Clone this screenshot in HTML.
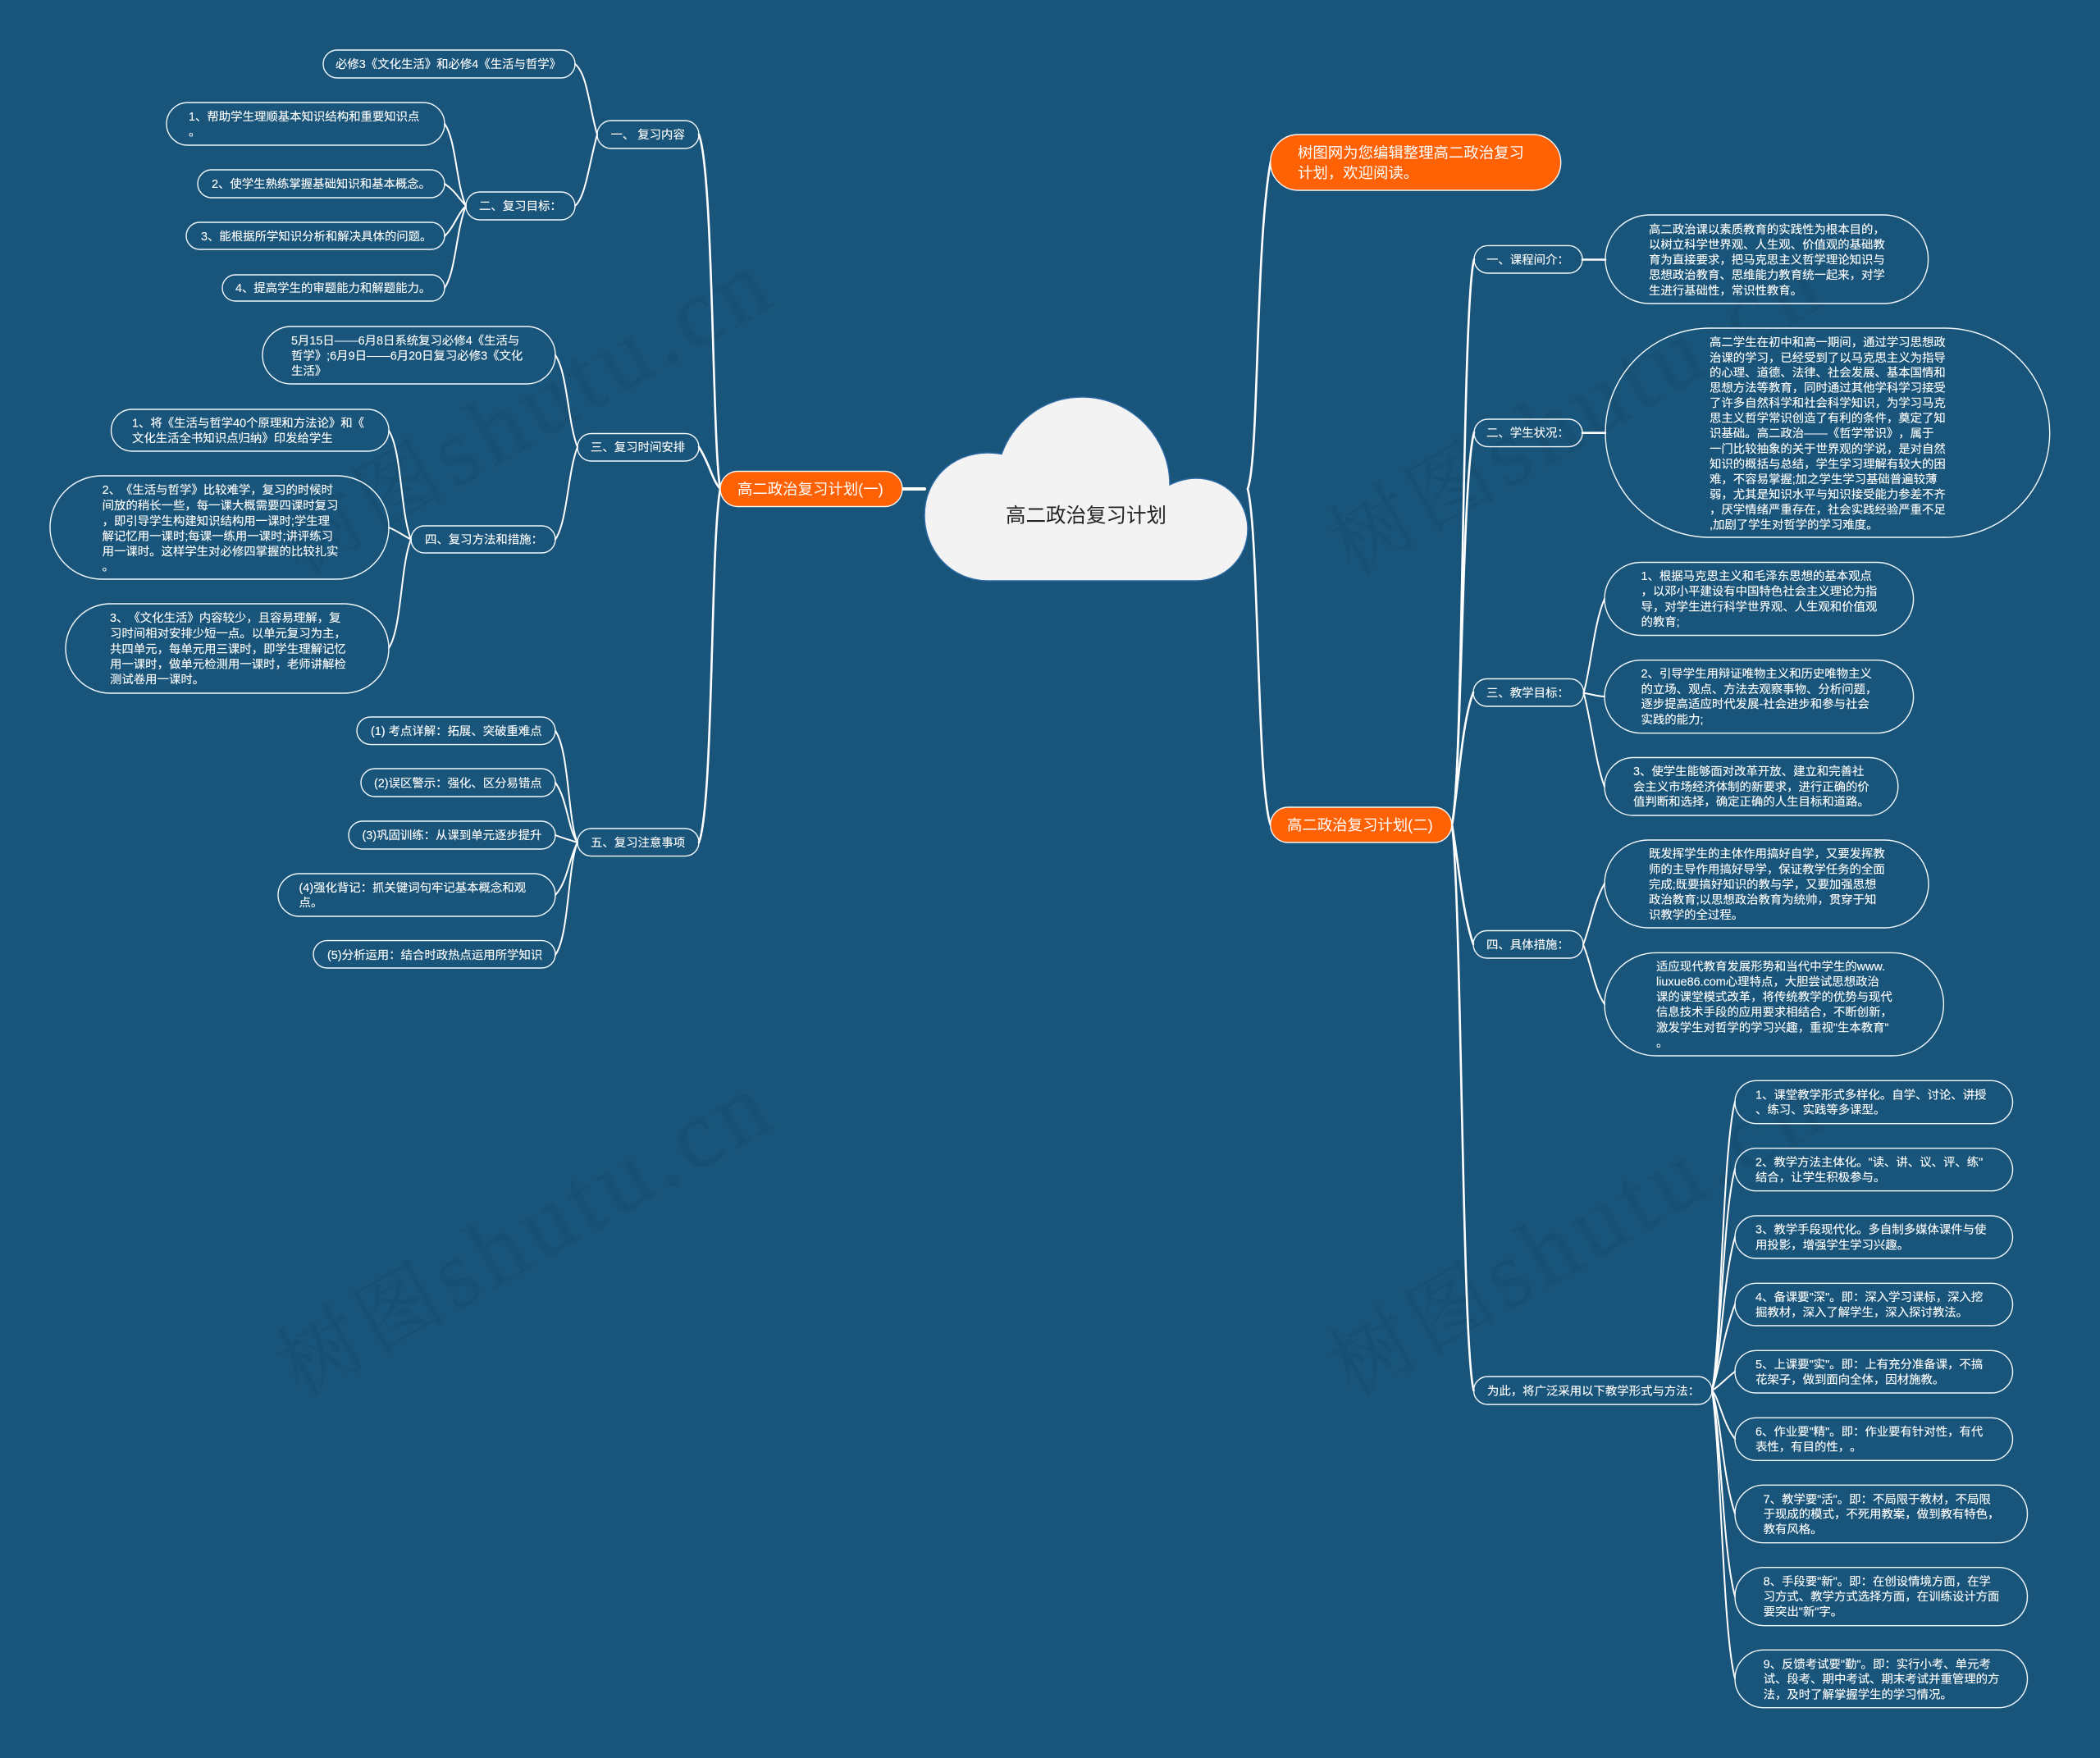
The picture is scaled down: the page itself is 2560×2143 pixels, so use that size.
<!DOCTYPE html>
<html lang="zh-CN">
<head>
<meta charset="utf-8">
<title>高二政治复习计划</title>
<style>
html,body{margin:0;padding:0;background:#19557a;}
body{width:2560px;height:2143px;overflow:hidden;}
svg{display:block;position:absolute;left:0;top:0;}
text{font-family:"Liberation Sans","Noto Sans CJK SC",sans-serif;text-spacing-trim:space-all;font-feature-settings:"chws" 0,"palt" 0;}
.t text{font-size:14.4px;fill:#fff;stroke:#fff;stroke-width:.12;dominant-baseline:central;}
.o{font-size:18.4px;fill:#fff;dominant-baseline:central;}
.wm{font-family:"Liberation Serif","Noto Serif CJK SC",serif;font-size:118px;letter-spacing:8px;fill:#175073;}
.wc{font-family:"Noto Serif CJK SC","Liberation Serif",serif;font-size:100px;letter-spacing:8px;fill:#175073;}
.l path{fill:none;stroke:#fff;stroke-width:2;stroke-linecap:round;}
.l2 path{fill:none;stroke:#fff;stroke-width:2.6;stroke-linecap:round;}
.n rect{fill:none;stroke:#f2f8fc;stroke-width:1.4;}
.m rect{fill:#ff6105;stroke:#f5f5f5;stroke-width:1.4;}
</style>
</head>
<body>
<svg width="2560" height="2143" viewBox="0 0 2560 2143" xmlns="http://www.w3.org/2000/svg">
<rect width="2560" height="2143" fill="#19557a"/>
<g>
<text class="wc" transform="translate(366,1704) rotate(-30)">树图</text>
<text class="wm" transform="translate(554,1599) rotate(-30)">shutu.cn</text>
<text class="wc" transform="translate(1648,1704) rotate(-30)">树图</text>
<text class="wm" transform="translate(1836,1599) rotate(-30)">shutu.cn</text>
<text class="wc" transform="translate(366,702) rotate(-30)">树图</text>
<text class="wm" transform="translate(554,597) rotate(-30)">shutu.cn</text>
<text class="wc" transform="translate(1648,702) rotate(-30)">树图</text>
<text class="wm" transform="translate(1836,597) rotate(-30)">shutu.cn</text>
</g>

<g class="l2">
<path d="M1521,596 C1535,560 1530,300 1549,197"/>
<path d="M1521,596 C1535,650 1532,960 1549,1006"/>
<path d="M1100,596 L1127,596" style="stroke-width:4"/>
<path d="M878,596 C868,540 870,210 852,164"/>
<path d="M878,596 C868,585 865,565 852,545"/>
<path d="M878,596 C866,660 870,980 852,1027"/>
<path d="M1770,1005 C1784,960 1782,370 1797,316"/>
<path d="M1770,1005 C1782,950 1782,580 1797,527"/>
<path d="M1770,1005 C1778,960 1782,880 1796,844"/>
<path d="M1770,1005 C1778,1050 1782,1110 1796,1151"/>
<path d="M1770,1005 C1782,1100 1782,1640 1796.500,1695"/>
</g>
<g class="l">
<path d="M728,164 C718,130 716,90 701,78"/>
<path d="M728,164 C718,200 714,240 701,251"/>
<path d="M568,251 C556,225 556,170 542,151"/>
<path d="M568,251 C558,240 554,232 542,224"/>
<path d="M568,251 C558,260 554,276 542,288"/>
<path d="M568,251 C556,280 556,330 542,351"/>
<path d="M704,545 C692,515 692,455 677,433"/>
<path d="M704,545 C692,575 692,635 677,657.600"/>
<path d="M501,657.600 C488,625 490,550 474,525"/>
<path d="M501,657.600 C490,652 486,648 474,643"/>
<path d="M501,657.600 C488,690 490,765 474,790"/>
<path d="M704,1027 C692,1000 694,915 677,891"/>
<path d="M704,1027 C692,1010 692,975 677,954"/>
<path d="M704,1027 C695,1024 687,1022 677,1018"/>
<path d="M704,1027 C694,1045 692,1075 677,1091"/>
<path d="M704,1027 C692,1055 694,1140 677,1164"/>
<path d="M1929,316.500 L1957,316.500" style="stroke-width:2.600"/>
<path d="M1929,527.700 L1957,527.700" style="stroke-width:2.600"/>
<path d="M1930.600,844.700 C1940,810 1943,760 1956,730"/>
<path d="M1930.600,844.700 C1940,846 1947,849 1956,849"/>
<path d="M1930.600,844.700 C1940,880 1945,930 1956,959"/>
<path d="M1930,1151.600 C1940,1125 1943,1100 1956,1077"/>
<path d="M1930,1151.600 C1940,1175 1943,1205 1956,1224"/>
<path d="M2087,1695 C2098,1640 2100,1400 2115,1343"/>
<path d="M2087,1695 C2098,1650 2100,1480 2115,1425"/>
<path d="M2087,1695 C2098,1660 2100,1560 2115,1508"/>
<path d="M2087,1695 C2096,1670 2100,1630 2115,1590"/>
<path d="M2087,1695 C2096,1690 2104,1680 2115,1672"/>
<path d="M2087,1695 C2096,1705 2100,1735 2115,1754"/>
<path d="M2087,1695 C2098,1730 2100,1800 2115,1845"/>
<path d="M2087,1695 C2098,1750 2100,1890 2115,1946"/>
<path d="M2087,1695 C2098,1770 2100,1990 2115,2046"/>
</g>

<path d="M1204,708 C1160,708 1127,672 1127,628 C1127,585 1160,552 1204,552 Q1213,552 1221,553.500 C1236,513 1273,484 1319,484 C1378,484 1426,532 1426,591 C1436,586 1446,583 1458,583 C1493,583 1521,610 1521,645 C1521,680 1493,708 1458,708 Z" fill="#f3f3f3" stroke="#2b69a6" stroke-width="1.400"/>
<text x="1226" y="629" style="font-size:24.500px;fill:#222;dominant-baseline:central">高二政治复习计划</text>

<g class="m">
<rect x="878" y="574.500" width="222" height="43" rx="21.500"/>
<rect x="1548.700" y="984" width="221" height="43" rx="21.500"/>
<rect x="1548.700" y="164" width="354" height="68" rx="34"/>
</g>
<text class="o" x="899" y="596">高二政治复习计划(一)</text>
<text class="o" x="1569" y="1005.500">高二政治复习计划(二)</text>
<text class="o" x="1582" y="186">树图网为您编辑整理高二政治复习</text>
<text class="o" x="1582" y="210.600">计划，欢迎阅读。</text>

<g class="n">
<!-- left -->
<rect x="728" y="147" width="124" height="34" rx="17"/>
<rect x="394" y="61" width="307" height="34" rx="17"/>
<rect x="568" y="234" width="133" height="34" rx="17"/>
<rect x="203" y="125" width="339" height="52" rx="26"/>
<rect x="241" y="207" width="301" height="34" rx="17"/>
<rect x="227" y="271" width="315" height="33" rx="16.500"/>
<rect x="271" y="335" width="271" height="32" rx="16"/>
<rect x="704" y="528.500" width="148" height="33.500" rx="16.700"/>
<rect x="320" y="398" width="357" height="70" rx="35"/>
<rect x="501" y="641" width="176" height="33" rx="16.500"/>
<rect x="135.500" y="499" width="338.500" height="51" rx="25.500"/>
<rect x="61" y="580" width="413" height="126" rx="63"/>
<rect x="80" y="736" width="394" height="109" rx="54.500"/>
<rect x="704" y="1010" width="148" height="33.600" rx="16.800"/>
<rect x="435" y="874" width="242" height="33.600" rx="16.800"/>
<rect x="440" y="937" width="237" height="34" rx="17"/>
<rect x="425" y="1001" width="252" height="34" rx="17"/>
<rect x="339" y="1065" width="338" height="52" rx="26"/>
<rect x="382" y="1146.600" width="295" height="33.400" rx="16.700"/>
<!-- right -->
<rect x="1797" y="299.400" width="132" height="33.600" rx="16.800"/>
<rect x="1957" y="262" width="393.600" height="108" rx="54"/>
<rect x="1797" y="511" width="132" height="33.600" rx="16.800"/>
<rect x="1957" y="400" width="541.700" height="255" rx="127.500"/>
<rect x="1796" y="827.500" width="134.600" height="33.500" rx="16.700"/>
<rect x="1956" y="685.500" width="376.600" height="89" rx="44.500"/>
<rect x="1956" y="804.700" width="376.600" height="89" rx="44.500"/>
<rect x="1956" y="923.500" width="357.800" height="70.500" rx="35.200"/>
<rect x="1796" y="1134.500" width="134" height="33.500" rx="16.700"/>
<rect x="1956" y="1024" width="395" height="107" rx="53.500"/>
<rect x="1956" y="1161.400" width="413.400" height="125.600" rx="62.800"/>
<rect x="1796.500" y="1678" width="290.500" height="34" rx="17"/>
<rect x="2115" y="1317.300" width="338.500" height="52.400" rx="26.200"/>
<rect x="2115" y="1399.700" width="338.500" height="52" rx="26"/>
<rect x="2115" y="1482" width="338.500" height="52" rx="26"/>
<rect x="2115" y="1564.300" width="338.500" height="51.700" rx="25.800"/>
<rect x="2115" y="1646.300" width="338.500" height="51.700" rx="25.800"/>
<rect x="2115" y="1728.300" width="338.500" height="52" rx="26"/>
<rect x="2115" y="1810.300" width="356.500" height="70.400" rx="35.200"/>
<rect x="2115" y="1910.700" width="356.500" height="71" rx="35.500"/>
<rect x="2115" y="2011.300" width="356.500" height="70.400" rx="35.200"/>
</g>

<g class="t" transform="translate(0,1)">
<text x="744.500" y="164">一、&#160;复习内容</text>
<text x="409" y="78">必修3《文化生活》和必修4《生活与哲学》</text>
<text x="584" y="251">二、复习目标：</text>
<text x="230" y="142">1、帮助学生理顺基本知识结构和重要知识点</text>
<text x="230" y="160.500">。</text>
<text x="258" y="224">2、使学生熟练掌握基础知识和基本概念。</text>
<text x="245" y="288">3、能根据所学知识分析和解决具体的问题。</text>
<text x="287" y="351">4、提高学生的审题能力和解题能力。</text>
<text x="720" y="545">三、复习时间安排</text>
<text x="355" y="415">5月15日——6月8日系统复习必修4《生活与</text>
<text x="355" y="433.500">哲学》;6月9日——6月20日复习必修3《文化</text>
<text x="355" y="452">生活》</text>
<text x="518" y="657.600">四、复习方法和措施：</text>
<text x="161" y="515.600">1、将《生活与哲学40个原理和方法论》和《</text>
<text x="161" y="534">文化生活全书知识点归纳》印发给学生</text>
<text x="124.600" y="597">2、《生活与哲学》比较难学，复习的时候时</text>
<text x="124.600" y="616">间放的稍长一些，每一课大概需要四课时复习</text>
<text x="124.600" y="635">，即引导学生构建知识结构用一课时;学生理</text>
<text x="124.600" y="653.500">解记忆用一课时;每课一练用一课时;讲评练习</text>
<text x="124.600" y="672">用一课时。这样学生对必修四掌握的比较扎实</text>
<text x="124.600" y="690.500">。</text>
<text x="134" y="753">3、《文化生活》内容较少，且容易理解，复</text>
<text x="134" y="772">习时间相对安排少短一点。以单元复习为主，</text>
<text x="134" y="791">共四单元，每单元用三课时，即学生理解记忆</text>
<text x="134" y="809.500">用一课时，做单元检测用一课时，老师讲解检</text>
<text x="134" y="828">测试卷用一课时。</text>
<text x="720" y="1026.800">五、复习注意事项</text>
<text x="452" y="891">(1) 考点详解：拓展、突破重难点</text>
<text x="456" y="954.500">(2)误区警示：强化、区分易错点</text>
<text x="441.500" y="1018">(3)巩固训练：从课到单元逐步提升</text>
<text x="364.500" y="1082">(4)强化背记：抓关键词句牢记基本概念和观</text>
<text x="364.500" y="1100">点。</text>
<text x="399" y="1164">(5)分析运用：结合时政热点运用所学知识</text>

<text x="1812" y="316.600">一、课程间介：</text>
<text x="2010" y="279.500">高二政治课以素质教育的实践性为根本目的，</text>
<text x="2010" y="298">以树立科学世界观、人生观、价值观的基础教</text>
<text x="2010" y="316.600">育为直接要求，把马克思主义哲学理论知识与</text>
<text x="2010" y="335">思想政治教育、思维能力教育统一起来，对学</text>
<text x="2010" y="354">生进行基础性，常识性教育。</text>
<text x="1812" y="527.700">二、学生状况：</text>
<text x="2084" y="417">高二学生在初中和高一期间，通过学习思想政</text>
<text x="2084" y="435.800">治课的学习，已经受到了以马克思主义为指导</text>
<text x="2084" y="454">的心理、道德、法律、社会发展、基本国情和</text>
<text x="2084" y="472.600">思想方法等教育，同时通过其他学科学习接受</text>
<text x="2084" y="491">了许多自然科学和社会科学知识，为学习马克</text>
<text x="2084" y="509.500">思主义哲学常识创造了有利的条件，奠定了知</text>
<text x="2084" y="528">识基础。高二政治——《哲学常识》，属于</text>
<text x="2084" y="547">一门比较抽象的关于世界观的学说，是对自然</text>
<text x="2084" y="565.600">知识的概括与总结，学生学习理解有较大的困</text>
<text x="2084" y="584">难，不容易掌握;加之学生学习基础普遍较薄</text>
<text x="2084" y="602.500">弱，尤其是知识水平与知识接受能力参差不齐</text>
<text x="2084" y="621">，厌学情绪严重存在，社会实践经验严重不足</text>
<text x="2084" y="639.300">,加剧了学生对哲学的学习难度。</text>
<text x="1812" y="844.700">三、教学目标：</text>
<text x="2000.500" y="702">1、根据马克思主义和毛泽东思想的基本观点</text>
<text x="2000.500" y="720.600">，以邓小平建设有中国特色社会主义理论为指</text>
<text x="2000.500" y="739.400">导，对学生进行科学世界观、人生观和价值观</text>
<text x="2000.500" y="757.800">的教育;</text>
<text x="2000.500" y="821">2、引导学生用辩证唯物主义和历史唯物主义</text>
<text x="2000.500" y="840">的立场、观点、方法去观察事物、分析问题，</text>
<text x="2000.500" y="858">逐步提高适应时代发展-社会进步和参与社会</text>
<text x="2000.500" y="877">实践的能力;</text>
<text x="1991" y="940">3、使学生能够面对改革开放、建立和完善社</text>
<text x="1991" y="959">会主义市场经济体制的新要求，进行正确的价</text>
<text x="1991" y="977">值判断和选择，确定正确的人生目标和道路。</text>
<text x="1812" y="1151.600">四、具体措施：</text>
<text x="2010" y="1040.600">既发挥学生的主体作用搞好自学，又要发挥教</text>
<text x="2010" y="1059.400">师的主导作用搞好导学，保证教学任务的全面</text>
<text x="2010" y="1077.800">完成;既要搞好知识的教与学，又要加强思想</text>
<text x="2010" y="1096.500">政治教育;以思想政治教育为统帅，贯穿于知</text>
<text x="2010" y="1115">识教学的全过程。</text>
<text x="2019" y="1178">适应现代教育发展形势和当代中学生的www.</text>
<text x="2019" y="1196.500">liuxue86.com心理特点，大胆尝试思想政治</text>
<text x="2019" y="1215">课的课堂模式改革，将传统教学的优势与现代</text>
<text x="2019" y="1233.700">信息技术手段的应用要求相结合，不断创新，</text>
<text x="2019" y="1252.400">激发学生对哲学的学习兴趣，重视"生本教育"</text>
<text x="2019" y="1271">。</text>
<text x="1813" y="1695.700">为此，将广泛采用以下教学形式与方法：</text>
<text x="2140" y="1334.300">1、课堂教学形式多样化。自学、讨论、讲授</text>
<text x="2140" y="1352.700">、练习、实践等多课型。</text>
<text x="2140" y="1416.300">2、教学方法主体化。"读、讲、议、评、练"</text>
<text x="2140" y="1435">结合，让学生积极参与。</text>
<text x="2140" y="1498.700">3、教学手段现代化。多自制多媒体课件与使</text>
<text x="2140" y="1517.300">用投影，增强学生学习兴趣。</text>
<text x="2140" y="1581">4、备课要"深"。即：深入学习课标，深入挖</text>
<text x="2140" y="1599.300">掘教材，深入了解学生，深入探讨教法。</text>
<text x="2140" y="1663">5、上课要"实"。即：上有充分准备课，不搞</text>
<text x="2140" y="1681.300">花架子，做到面向全体，因材施教。</text>
<text x="2140" y="1745">6、作业要"精"。即：作业要有针对性，有代</text>
<text x="2140" y="1763.300">表性，有目的性，。</text>
<text x="2149.600" y="1827.300">7、教学要"活"。即：不局限于教材，不局限</text>
<text x="2149.600" y="1845.700">于现成的模式，不死用教案，做到教有特色，</text>
<text x="2149.600" y="1864">教有风格。</text>
<text x="2149.600" y="1927.300">8、手段要"新"。即：在创设情境方面，在学</text>
<text x="2149.600" y="1946">习方式、教学方式选择方面，在训练设计方面</text>
<text x="2149.600" y="1964.700">要突出"新"字。</text>
<text x="2149.600" y="2028.300">9、反馈考试要"勤"。即：实行小考、单元考</text>
<text x="2149.600" y="2046.700">试、段考、期中考试、期末考试并重管理的方</text>
<text x="2149.600" y="2065.300">法，及时了解掌握学生的学习情况。</text>
</g>
</svg>
</body>
</html>
